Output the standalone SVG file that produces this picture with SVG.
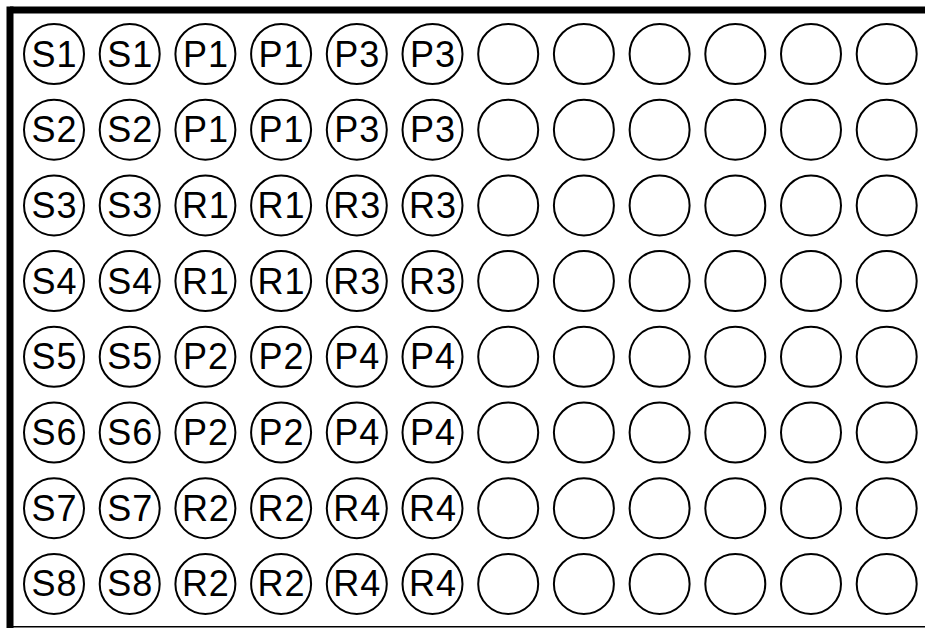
<svg xmlns="http://www.w3.org/2000/svg" width="925" height="628" viewBox="0 0 925 628">
<style>
.w{fill:#fff;stroke:#000;stroke-width:2}
.t{font-family:"Liberation Sans",Arial,sans-serif;font-size:36px;letter-spacing:1px;text-anchor:middle;fill:#000}
</style>
<rect x="0" y="0" width="925" height="628" fill="#fff"/>
<g id="frame">
<line x1="10" y1="10" x2="925" y2="10" stroke="#000" stroke-width="7"/>
<line x1="10" y1="6.5" x2="10" y2="628" stroke="#000" stroke-width="7"/>
<line x1="10" y1="626.8" x2="925" y2="626.8" stroke="#000" stroke-width="1.6"/>
</g>
<g id="connectors"></g>
<g id="r1">
<g id="A1"><circle class="w" cx="54" cy="54" r="30"/><text class="t" x="54.5" y="66.5">S1</text></g>
<g id="A2"><circle class="w" cx="129.7" cy="54" r="30"/><text class="t" x="130.2" y="66.5">S1</text></g>
<g id="A3"><circle class="w" cx="205.4" cy="54" r="30"/><text class="t" x="205.9" y="66.5">P1</text></g>
<g id="A4"><circle class="w" cx="281.1" cy="54" r="30"/><text class="t" x="281.6" y="66.5">P1</text></g>
<g id="A5"><circle class="w" cx="356.8" cy="54" r="30"/><text class="t" x="357.3" y="66.5">P3</text></g>
<g id="A6"><circle class="w" cx="432.5" cy="54" r="30"/><text class="t" x="433" y="66.5">P3</text></g>
<g id="A7"><circle class="w" cx="508.2" cy="54" r="30"/></g>
<g id="A8"><circle class="w" cx="583.9" cy="54" r="30"/></g>
<g id="A9"><circle class="w" cx="659.6" cy="54" r="30"/></g>
<g id="A10"><circle class="w" cx="735.3" cy="54" r="30"/></g>
<g id="A11"><circle class="w" cx="811" cy="54" r="30"/></g>
<g id="A12"><circle class="w" cx="886.7" cy="54" r="30"/></g>
</g>
<g id="r2">
<g id="B1"><circle class="w" cx="54" cy="129.7" r="30"/><text class="t" x="54.5" y="142.2">S2</text></g>
<g id="B2"><circle class="w" cx="129.7" cy="129.7" r="30"/><text class="t" x="130.2" y="142.2">S2</text></g>
<g id="B3"><circle class="w" cx="205.4" cy="129.7" r="30"/><text class="t" x="205.9" y="142.2">P1</text></g>
<g id="B4"><circle class="w" cx="281.1" cy="129.7" r="30"/><text class="t" x="281.6" y="142.2">P1</text></g>
<g id="B5"><circle class="w" cx="356.8" cy="129.7" r="30"/><text class="t" x="357.3" y="142.2">P3</text></g>
<g id="B6"><circle class="w" cx="432.5" cy="129.7" r="30"/><text class="t" x="433" y="142.2">P3</text></g>
<g id="B7"><circle class="w" cx="508.2" cy="129.7" r="30"/></g>
<g id="B8"><circle class="w" cx="583.9" cy="129.7" r="30"/></g>
<g id="B9"><circle class="w" cx="659.6" cy="129.7" r="30"/></g>
<g id="B10"><circle class="w" cx="735.3" cy="129.7" r="30"/></g>
<g id="B11"><circle class="w" cx="811" cy="129.7" r="30"/></g>
<g id="B12"><circle class="w" cx="886.7" cy="129.7" r="30"/></g>
</g>
<g id="r3">
<g id="C1"><circle class="w" cx="54" cy="205.4" r="30"/><text class="t" x="54.5" y="217.9">S3</text></g>
<g id="C2"><circle class="w" cx="129.7" cy="205.4" r="30"/><text class="t" x="130.2" y="217.9">S3</text></g>
<g id="C3"><circle class="w" cx="205.4" cy="205.4" r="30"/><text class="t" x="205.9" y="217.9">R1</text></g>
<g id="C4"><circle class="w" cx="281.1" cy="205.4" r="30"/><text class="t" x="281.6" y="217.9">R1</text></g>
<g id="C5"><circle class="w" cx="356.8" cy="205.4" r="30"/><text class="t" x="357.3" y="217.9">R3</text></g>
<g id="C6"><circle class="w" cx="432.5" cy="205.4" r="30"/><text class="t" x="433" y="217.9">R3</text></g>
<g id="C7"><circle class="w" cx="508.2" cy="205.4" r="30"/></g>
<g id="C8"><circle class="w" cx="583.9" cy="205.4" r="30"/></g>
<g id="C9"><circle class="w" cx="659.6" cy="205.4" r="30"/></g>
<g id="C10"><circle class="w" cx="735.3" cy="205.4" r="30"/></g>
<g id="C11"><circle class="w" cx="811" cy="205.4" r="30"/></g>
<g id="C12"><circle class="w" cx="886.7" cy="205.4" r="30"/></g>
</g>
<g id="r4">
<g id="D1"><circle class="w" cx="54" cy="281.1" r="30"/><text class="t" x="54.5" y="293.6">S4</text></g>
<g id="D2"><circle class="w" cx="129.7" cy="281.1" r="30"/><text class="t" x="130.2" y="293.6">S4</text></g>
<g id="D3"><circle class="w" cx="205.4" cy="281.1" r="30"/><text class="t" x="205.9" y="293.6">R1</text></g>
<g id="D4"><circle class="w" cx="281.1" cy="281.1" r="30"/><text class="t" x="281.6" y="293.6">R1</text></g>
<g id="D5"><circle class="w" cx="356.8" cy="281.1" r="30"/><text class="t" x="357.3" y="293.6">R3</text></g>
<g id="D6"><circle class="w" cx="432.5" cy="281.1" r="30"/><text class="t" x="433" y="293.6">R3</text></g>
<g id="D7"><circle class="w" cx="508.2" cy="281.1" r="30"/></g>
<g id="D8"><circle class="w" cx="583.9" cy="281.1" r="30"/></g>
<g id="D9"><circle class="w" cx="659.6" cy="281.1" r="30"/></g>
<g id="D10"><circle class="w" cx="735.3" cy="281.1" r="30"/></g>
<g id="D11"><circle class="w" cx="811" cy="281.1" r="30"/></g>
<g id="D12"><circle class="w" cx="886.7" cy="281.1" r="30"/></g>
</g>
<g id="r5">
<g id="E1"><circle class="w" cx="54" cy="356.8" r="30"/><text class="t" x="54.5" y="369.3">S5</text></g>
<g id="E2"><circle class="w" cx="129.7" cy="356.8" r="30"/><text class="t" x="130.2" y="369.3">S5</text></g>
<g id="E3"><circle class="w" cx="205.4" cy="356.8" r="30"/><text class="t" x="205.9" y="369.3">P2</text></g>
<g id="E4"><circle class="w" cx="281.1" cy="356.8" r="30"/><text class="t" x="281.6" y="369.3">P2</text></g>
<g id="E5"><circle class="w" cx="356.8" cy="356.8" r="30"/><text class="t" x="357.3" y="369.3">P4</text></g>
<g id="E6"><circle class="w" cx="432.5" cy="356.8" r="30"/><text class="t" x="433" y="369.3">P4</text></g>
<g id="E7"><circle class="w" cx="508.2" cy="356.8" r="30"/></g>
<g id="E8"><circle class="w" cx="583.9" cy="356.8" r="30"/></g>
<g id="E9"><circle class="w" cx="659.6" cy="356.8" r="30"/></g>
<g id="E10"><circle class="w" cx="735.3" cy="356.8" r="30"/></g>
<g id="E11"><circle class="w" cx="811" cy="356.8" r="30"/></g>
<g id="E12"><circle class="w" cx="886.7" cy="356.8" r="30"/></g>
</g>
<g id="r6">
<g id="F1"><circle class="w" cx="54" cy="432.5" r="30"/><text class="t" x="54.5" y="445">S6</text></g>
<g id="F2"><circle class="w" cx="129.7" cy="432.5" r="30"/><text class="t" x="130.2" y="445">S6</text></g>
<g id="F3"><circle class="w" cx="205.4" cy="432.5" r="30"/><text class="t" x="205.9" y="445">P2</text></g>
<g id="F4"><circle class="w" cx="281.1" cy="432.5" r="30"/><text class="t" x="281.6" y="445">P2</text></g>
<g id="F5"><circle class="w" cx="356.8" cy="432.5" r="30"/><text class="t" x="357.3" y="445">P4</text></g>
<g id="F6"><circle class="w" cx="432.5" cy="432.5" r="30"/><text class="t" x="433" y="445">P4</text></g>
<g id="F7"><circle class="w" cx="508.2" cy="432.5" r="30"/></g>
<g id="F8"><circle class="w" cx="583.9" cy="432.5" r="30"/></g>
<g id="F9"><circle class="w" cx="659.6" cy="432.5" r="30"/></g>
<g id="F10"><circle class="w" cx="735.3" cy="432.5" r="30"/></g>
<g id="F11"><circle class="w" cx="811" cy="432.5" r="30"/></g>
<g id="F12"><circle class="w" cx="886.7" cy="432.5" r="30"/></g>
</g>
<g id="r7">
<g id="G1"><circle class="w" cx="54" cy="508.2" r="30"/><text class="t" x="54.5" y="520.7">S7</text></g>
<g id="G2"><circle class="w" cx="129.7" cy="508.2" r="30"/><text class="t" x="130.2" y="520.7">S7</text></g>
<g id="G3"><circle class="w" cx="205.4" cy="508.2" r="30"/><text class="t" x="205.9" y="520.7">R2</text></g>
<g id="G4"><circle class="w" cx="281.1" cy="508.2" r="30"/><text class="t" x="281.6" y="520.7">R2</text></g>
<g id="G5"><circle class="w" cx="356.8" cy="508.2" r="30"/><text class="t" x="357.3" y="520.7">R4</text></g>
<g id="G6"><circle class="w" cx="432.5" cy="508.2" r="30"/><text class="t" x="433" y="520.7">R4</text></g>
<g id="G7"><circle class="w" cx="508.2" cy="508.2" r="30"/></g>
<g id="G8"><circle class="w" cx="583.9" cy="508.2" r="30"/></g>
<g id="G9"><circle class="w" cx="659.6" cy="508.2" r="30"/></g>
<g id="G10"><circle class="w" cx="735.3" cy="508.2" r="30"/></g>
<g id="G11"><circle class="w" cx="811" cy="508.2" r="30"/></g>
<g id="G12"><circle class="w" cx="886.7" cy="508.2" r="30"/></g>
</g>
<g id="r8">
<g id="H1"><circle class="w" cx="54" cy="583.9" r="30"/><text class="t" x="54.5" y="596.4">S8</text></g>
<g id="H2"><circle class="w" cx="129.7" cy="583.9" r="30"/><text class="t" x="130.2" y="596.4">S8</text></g>
<g id="H3"><circle class="w" cx="205.4" cy="583.9" r="30"/><text class="t" x="205.9" y="596.4">R2</text></g>
<g id="H4"><circle class="w" cx="281.1" cy="583.9" r="30"/><text class="t" x="281.6" y="596.4">R2</text></g>
<g id="H5"><circle class="w" cx="356.8" cy="583.9" r="30"/><text class="t" x="357.3" y="596.4">R4</text></g>
<g id="H6"><circle class="w" cx="432.5" cy="583.9" r="30"/><text class="t" x="433" y="596.4">R4</text></g>
<g id="H7"><circle class="w" cx="508.2" cy="583.9" r="30"/></g>
<g id="H8"><circle class="w" cx="583.9" cy="583.9" r="30"/></g>
<g id="H9"><circle class="w" cx="659.6" cy="583.9" r="30"/></g>
<g id="H10"><circle class="w" cx="735.3" cy="583.9" r="30"/></g>
<g id="H11"><circle class="w" cx="811" cy="583.9" r="30"/></g>
<g id="H12"><circle class="w" cx="886.7" cy="583.9" r="30"/></g>
</g>
</svg>
